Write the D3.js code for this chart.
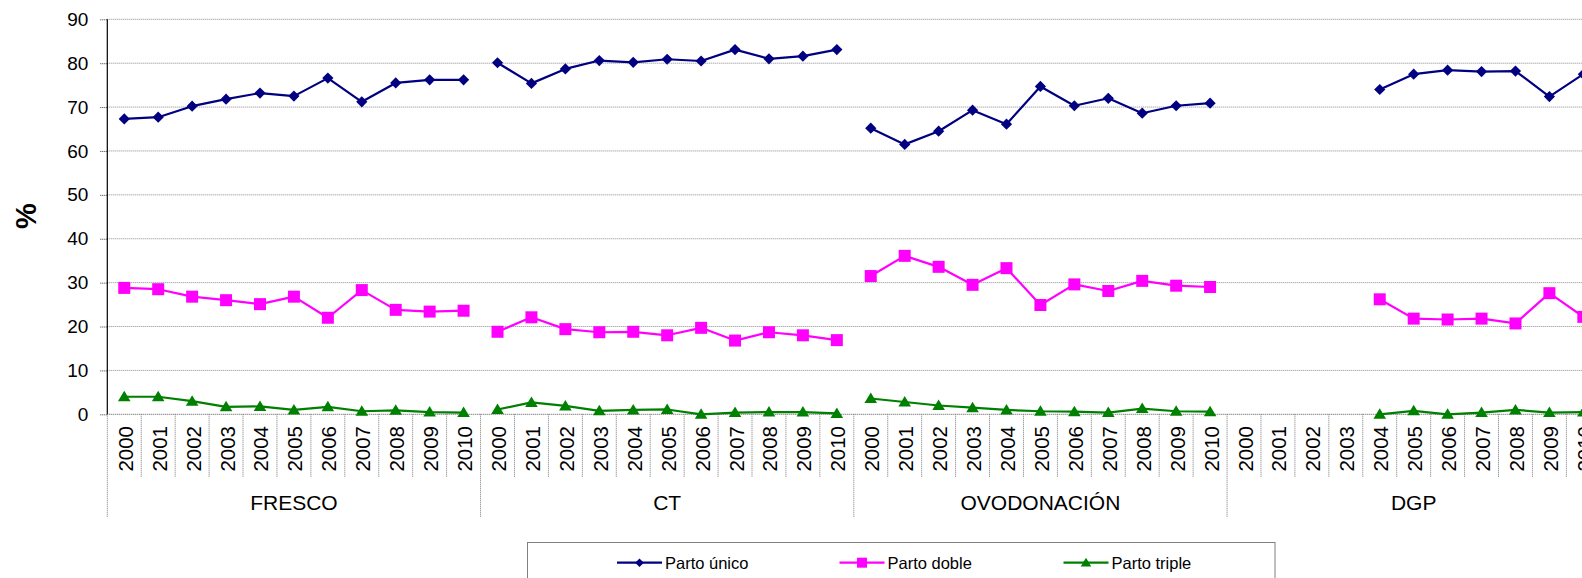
<!DOCTYPE html>
<html>
<head>
<meta charset="utf-8">
<script src="https://cdn.jsdelivr.net/npm/d3@7"></script>
<style>
  html, body { margin: 0; padding: 0; background: #fff; overflow: hidden; }
  svg { display: block; font-family: "Liberation Sans", Arial, sans-serif; }
</style>
</head>
<body>
<svg id="chart" width="1582" height="578"></svg>
<script>
// ---- data ----
const groups = ["FRESCO", "CT", "OVODONACIÓN", "DGP"];
const years = ["2000","2001","2002","2003","2004","2005","2006","2007","2008","2009","2010"];
const yTicks = [0, 10, 20, 30, 40, 50, 60, 70, 80, 90];
const seriesNames = ["Parto único", "Parto doble", "Parto triple"];

// 44 values each: FRESCO 2000-2010, CT 2000-2010, OVODONACIÓN 2000-2010, DGP 2000-2010
const partoUnico = [
  67.3, 67.7, 70.2, 71.8, 73.2, 72.5, 76.6, 71.2, 75.5, 76.2, 76.2,
  80.1, 75.4, 78.7, 80.6, 80.2, 80.9, 80.5, 83.1, 81.0, 81.6, 83.1,
  65.2, 61.5, 64.5, 69.3, 66.1, 74.7, 70.3, 72.0, 68.6, 70.3, 70.9,
  null, null, null, null, 74.0, 77.5, 78.4, 78.1, 78.2, 72.4, 77.5
];
const partoDoble = [
  28.8, 28.5, 26.8, 26.0, 25.1, 26.8, 22.0, 28.3, 23.8, 23.4, 23.6,
  18.8, 22.1, 19.4, 18.7, 18.8, 18.0, 19.7, 16.8, 18.7, 18.0, 16.9,
  31.5, 36.1, 33.6, 29.5, 33.3, 24.9, 29.6, 28.1, 30.4, 29.3, 29.0,
  null, null, null, null, 26.2, 21.8, 21.6, 21.8, 20.7, 27.6, 22.2
];
const partoTriple = [
  4.0, 4.0, 3.0, 1.7, 1.8, 1.0, 1.7, 0.7, 0.9, 0.5, 0.4,
  1.1, 2.7, 1.9, 0.8, 1.0, 1.1, 0.0, 0.4, 0.5, 0.5, 0.2,
  3.6, 2.8, 2.0, 1.5, 1.0, 0.7, 0.6, 0.4, 1.3, 0.7, 0.6,
  null, null, null, null, 0.0, 0.8, 0.0, 0.4, 1.0, 0.4, 0.5
];

(function () {
// ---- layout ----
const svg = d3.select("#chart");
const pLeft = 107.3, pRight = 1600.3, pTop = 19.3, pBottom = 414.3;

const cats = d3.range(groups.length * years.length);
const x = d3.scaleBand().domain(cats).range([pLeft, pRight]).padding(0);
const bw = x.bandwidth();
const cx = i => x(i) + bw / 2;
const y = d3.scaleLinear().domain([0, 90]).range([pBottom, pTop]);

// gridlines
svg.append("g").selectAll("line").data(yTicks).join("line")
  .attr("x1", pLeft).attr("x2", pRight + 20)
  .attr("y1", d => y(d)).attr("y2", d => y(d))
  .attr("stroke", d => d === 0 ? "#555" : "#8a8a8a")
  .attr("stroke-width", 1)
  .attr("stroke-dasharray", "1,1");

// y axis
const yAxis = d3.axisLeft(y).tickValues(yTicks).tickSize(7).tickPadding(12).tickFormat(d3.format("d"));
const ga = svg.append("g").attr("transform", `translate(${pLeft},0)`).call(yAxis);
ga.select(".domain").remove();
ga.selectAll(".tick line").attr("stroke", "#333").attr("stroke-dasharray", "1,1");
ga.selectAll(".tick text").attr("font-size", 19).attr("fill", "#000")
  .attr("font-family", "'Liberation Sans', Arial, sans-serif");
svg.append("line").attr("x1", pLeft).attr("x2", pLeft).attr("y1", pTop).attr("y2", pBottom)
  .attr("stroke", "#000").attr("stroke-width", 1.2);

// y title
svg.append("text").attr("transform", `translate(36,216) rotate(-90)`)
  .attr("text-anchor", "middle").attr("font-size", 29).attr("font-weight", "bold")
  .text("%");

// category separators
const sepG = svg.append("g");
cats.forEach(i => {
  if (i % years.length === 0) return;
  sepG.append("line").attr("x1", x(i)).attr("x2", x(i))
    .attr("y1", pBottom).attr("y2", 477)
    .attr("stroke", "#777").attr("stroke-width", 1).attr("stroke-dasharray", "1,1");
});
d3.range(groups.length + 1).forEach(g => {
  const xx = g < groups.length ? x(g * years.length) : pRight;
  sepG.append("line").attr("x1", xx).attr("x2", xx)
    .attr("y1", pBottom).attr("y2", 517)
    .attr("stroke", "#777").attr("stroke-width", 1).attr("stroke-dasharray", "1,1");
});

// year labels
svg.append("g").selectAll("text").data(cats).join("text")
  .attr("transform", i => `translate(${cx(i) + 1},426) rotate(-90)`)
  .attr("text-anchor", "end").attr("dominant-baseline", "central")
  .attr("font-size", 20.5)
  .text(i => years[i % years.length]);

// group labels
svg.append("g").selectAll("text").data(groups).join("text")
  .attr("x", (d, g) => x(g * years.length) + bw * years.length / 2)
  .attr("y", 510)
  .attr("text-anchor", "middle").attr("font-size", 21)
  .text(d => d);

// series
const series = [
  { name: seriesNames[0], values: partoUnico, color: "#000080", marker: "diamond" },
  { name: seriesNames[1], values: partoDoble, color: "#FF00FF", marker: "square" },
  { name: seriesNames[2], values: partoTriple, color: "#008000", marker: "triangle" }
];

function markerPath(type, s) {
  if (type === "diamond") return `M0,${-s}L${s},0L0,${s}L${-s},0Z`;
  if (type === "square") return `M${-s},${-s}H${s}V${s}H${-s}Z`;
  return `M0,${-s * 1.0}L${s * 1.05},${s * 0.75}L${-s * 1.05},${s * 0.75}Z`;
}
const markerSize = { diamond: 5.6, square: 6, triangle: 6 };

series.forEach(sr => {
  const g = svg.append("g");
  d3.range(groups.length).forEach(gi => {
    const idx = d3.range(gi * years.length, (gi + 1) * years.length);
    const line = d3.line()
      .defined(i => sr.values[i] != null)
      .x(i => cx(i)).y(i => y(sr.values[i]));
    g.append("path").attr("d", line(idx))
      .attr("fill", "none").attr("stroke", sr.color).attr("stroke-width", 2.2)
      .attr("stroke-linejoin", "round");
  });
  g.selectAll(".m").data(cats.filter(i => sr.values[i] != null)).join("path")
    .attr("transform", i => `translate(${cx(i)},${y(sr.values[i])})`)
    .attr("d", markerPath(sr.marker, markerSize[sr.marker]))
    .attr("fill", sr.color);
});

// legend
const lg = svg.append("g");
lg.append("rect").attr("x", 527.5).attr("y", 542.5).attr("width", 747.5).attr("height", 60)
  .attr("fill", "#fff").attr("stroke", "#808080").attr("stroke-width", 1);
const legendX = [617, 839.5, 1063.5];
series.forEach((sr, k) => {
  const lx = legendX[k], ly = 562.7;
  lg.append("line").attr("x1", lx).attr("x2", lx + 45).attr("y1", ly).attr("y2", ly)
    .attr("stroke", sr.color).attr("stroke-width", 2.2);
  lg.append("path").attr("transform", `translate(${lx + 22.5},${ly})`)
    .attr("d", markerPath(sr.marker, sr.marker === "diamond" ? 4.3 : 5)).attr("fill", sr.color);
  lg.append("text").attr("x", lx + 48).attr("y", ly).attr("dominant-baseline", "central")
    .attr("font-size", 16.5).text(sr.name);
});
})();
</script>
</body>
</html>
